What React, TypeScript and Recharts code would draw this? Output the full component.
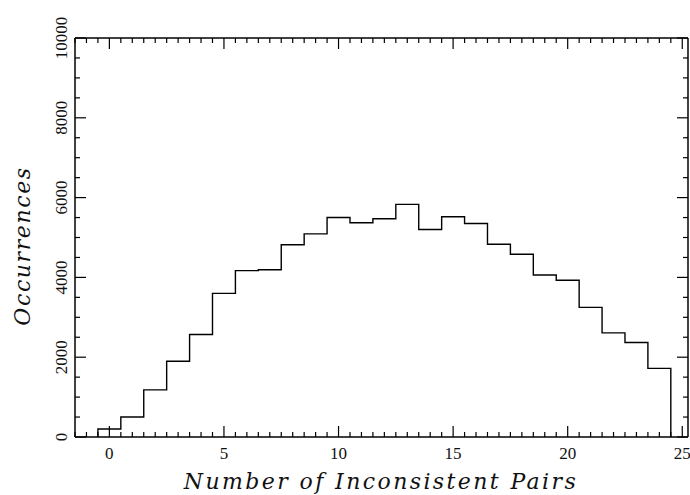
import { LineChart, Line, XAxis, YAxis } from 'recharts';

// Histogram: how many times each count of inconsistent pairs occurred
const pairs = [0, 1, 2, 3, 4, 5, 6, 7, 8, 9, 10, 11, 12, 13, 14, 15, 16, 17, 18, 19, 20, 21, 22, 23, 24];
const occurrences = [
  200, 500, 1180, 1900, 2570, 3600, 4170, 4190, 4820, 5090, 5500, 5370, 5470,
  5830, 5200, 5520, 5350, 4830, 4580, 4060, 3930, 3250, 2610, 2370, 1720,
];
const xMajor = [0, 5, 10, 15, 20, 25];
const yMajor = [0, 2000, 4000, 6000, 8000, 10000];

// bin edges -> step outline (stepAfter), closed to 0 on both sides
const stepData = [
  { x: pairs[0] - 0.5, y: 0 },
  ...pairs.map((p, i) => ({ x: p - 0.5, y: occurrences[i] })),
  { x: pairs[pairs.length - 1] + 0.5, y: 0 },
];

const X_DOMAIN: [number, number] = [-1.5, 25.25];
const xTicks: number[] = [];
for (let t = -1.5; t <= 25; t += 0.5) xTicks.push(t);
const yTicks: number[] = [];
for (let t = 0; t <= 10000; t += 500) yTicks.push(t);

const tickFont = { fontFamily: '"Liberation Serif", serif', fontSize: 17, fill: '#111' };

function BottomTick(props: any) {
  const { x, y, payload } = props;
  const major = xMajor.includes(payload.value);
  return (
    <g>
      <line x1={x} x2={x} y1={y} y2={y - (major ? 11 : 5)} stroke="#000" strokeWidth={1.2} />
      {major && (
        <text x={x} y={y + 22} textAnchor="middle" {...tickFont}>
          {payload.value}
        </text>
      )}
    </g>
  );
}

function TopTick(props: any) {
  const { x, y, payload } = props;
  const major = xMajor.includes(payload.value);
  return <line x1={x} x2={x} y1={y} y2={y + (major ? 11 : 5)} stroke="#000" strokeWidth={1.2} />;
}

function LeftTick(props: any) {
  const { x, y, payload } = props;
  const major = yMajor.includes(payload.value);
  return (
    <g>
      <line x1={x} x2={x + (major ? 11 : 5)} y1={y} y2={y} stroke="#000" strokeWidth={1.2} />
      {major && (
        <text
          x={x - 8}
          y={y}
          textAnchor="middle"
          transform={`rotate(-90, ${x - 8}, ${y})`}
          {...tickFont}
        >
          {payload.value}
        </text>
      )}
    </g>
  );
}

function RightTick(props: any) {
  const { x, y, payload } = props;
  const major = yMajor.includes(payload.value);
  return <line x1={x} x2={x - (major ? 11 : 5)} y1={y} y2={y} stroke="#000" strokeWidth={1.2} />;
}

const titleStyle: React.CSSProperties = {
  position: 'absolute',
  fontFamily: '"DejaVu Serif", serif',
  fontStyle: 'italic',
  fontSize: 22,
  color: '#111',
  whiteSpace: 'nowrap',
};

export default function App() {
  return (
    <div style={{ position: 'absolute', left: 0, top: 0, width: 690, height: 495, background: '#fff' }}>
      <LineChart width={690} height={495} data={stepData} margin={{ top: 37, right: 0, bottom: 0, left: 0 }}>
        <XAxis
          dataKey="x"
          type="number"
          domain={X_DOMAIN}
          allowDataOverflow
          ticks={xTicks}
          interval={0}
          tickSize={0}
          tickMargin={0}
          tick={<BottomTick />}
          axisLine={{ stroke: '#000', strokeWidth: 1.5 }}
          height={58}
        />
        <XAxis
          xAxisId="top"
          orientation="top"
          dataKey="x"
          type="number"
          domain={X_DOMAIN}
          allowDataOverflow
          ticks={xTicks}
          interval={0}
          tickSize={0}
          tickMargin={0}
          tick={<TopTick />}
          axisLine={{ stroke: '#000', strokeWidth: 1.5 }}
          height={1}
        />
        <YAxis
          type="number"
          domain={[0, 10000]}
          allowDataOverflow
          ticks={yTicks}
          interval={0}
          tickSize={0}
          tickMargin={0}
          tick={<LeftTick />}
          axisLine={{ stroke: '#000', strokeWidth: 1.5 }}
          width={75}
        />
        <YAxis
          yAxisId="right"
          orientation="right"
          type="number"
          domain={[0, 10000]}
          allowDataOverflow
          ticks={yTicks}
          interval={0}
          tickSize={0}
          tickMargin={0}
          tick={<RightTick />}
          axisLine={{ stroke: '#000', strokeWidth: 1.5 }}
          width={2}
        />
        <Line
          dataKey="y"
          type="stepAfter"
          stroke="#000"
          strokeWidth={1.4}
          dot={false}
          activeDot={false}
          isAnimationActive={false}
        />
      </LineChart>
      <div style={{ ...titleStyle, left: 381, top: 481, letterSpacing: 2.4, transform: 'translate(-50%, -50%)' }}>
        Number of Inconsistent Pairs
      </div>
      <div
        style={{
          ...titleStyle,
          left: 22,
          top: 246,
          letterSpacing: 1.6,
          transform: 'translate(-50%, -50%) rotate(-90deg)',
        }}
      >
        Occurrences
      </div>
    </div>
  );
}
